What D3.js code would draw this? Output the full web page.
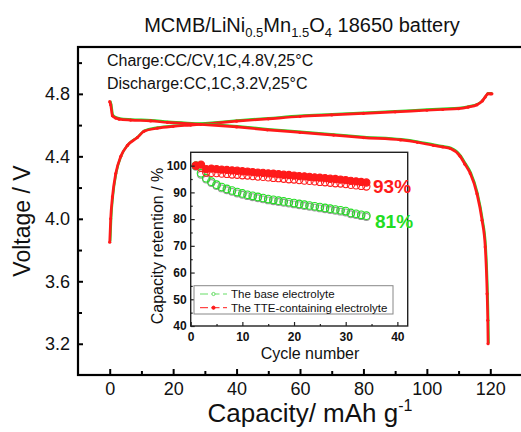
<!DOCTYPE html>
<html>
<head>
<meta charset="utf-8">
<script src="https://cdn.jsdelivr.net/npm/d3@7"></script>
<style>
  body { margin: 0; background: #fff; }
  svg { display: block; font-family: "Liberation Sans", Arial, sans-serif; }
  .narrow { font-family: "Liberation Sans Narrow", "Arial Narrow", "Liberation Sans", Arial, sans-serif; font-weight: bold; }
</style>
</head>
<body>
<svg id="chart" width="521" height="432"></svg>
<script>
// main panel: charge / discharge profile (capacity mAh/g vs voltage V)
var chargeCap = [0, 0.3, 0.85, 1.9, 3.5, 5.6, 8.7, 10.8, 15, 20, 25.5, 30, 40, 50, 60, 70, 80, 90, 100, 105, 110, 113, 115.8, 117.5, 118.4, 119.2, 120, 120.5];
var chargeV = [3.85, 4.0, 4.14, 4.29, 4.40, 4.47, 4.52, 4.56, 4.58, 4.592, 4.60, 4.607, 4.625, 4.64, 4.655, 4.665, 4.675, 4.685, 4.695, 4.70, 4.705, 4.715, 4.73, 4.755, 4.78, 4.80, 4.80, 4.80];
var dischargeCap = [0, 0.3, 0.85, 1.9, 3, 6.6, 12.9, 18.2, 28.7, 40, 49.7, 60, 70.6, 80, 91.7, 97, 102.1, 105, 107.4, 110.5, 112, 113.7, 115.8, 117.4, 118.4, 119.0, 119.2, 119.3];
var dischargeV = [4.75, 4.73, 4.66, 4.645, 4.638, 4.632, 4.627, 4.617, 4.605, 4.588, 4.57, 4.553, 4.536, 4.52, 4.505, 4.49, 4.47, 4.46, 4.45, 4.40, 4.35, 4.29, 4.16, 3.99, 3.82, 3.52, 3.35, 3.20];
var xTicksMain = [0, 20, 40, 60, 80, 100, 120];
var xMinorMain = [10, 30, 50, 70, 90, 110];
var yTicksMain = [3.2, 3.6, 4.0, 4.4, 4.8];
var yMinorMain = [3.4, 3.8, 4.2, 4.6, 5.0];

// inset: capacity retention vs cycle number
var cycles = d3.range(1, 35);
var baseRet = [100, 97.2, 95.3, 94.0, 92.9, 92.0, 91.3, 90.7, 90.1, 89.6, 89.1, 88.7, 88.3, 87.9, 87.5, 87.2, 86.9, 86.6, 86.3, 86.0, 85.7, 85.4, 85.1, 84.8, 84.5, 84.2, 83.9, 83.6, 83.3, 83.0, 82.3, 82.0, 81.6, 81.3];
var baseRet2 = [99.6, 96.6, 94.8, 93.5, 92.4, 91.5, 90.8, 90.2, 89.6, 89.1, 88.6, 88.2, 87.8, 87.4, 87.0, 86.7, 86.4, 86.1, 85.8, 85.5, 85.2, 84.9, 84.6, 84.3, 84.0, 83.7, 83.4, 83.1, 82.8, 82.5, 81.8, 81.5, 81.1, 80.8];
var tteRet = [100, 100.4, 98.7, 98.9, 98.7, 98.5, 98.4, 98.2, 98.1, 97.9, 97.8, 97.6, 97.4, 97.3, 97.1, 97.0, 96.8, 96.6, 96.5, 96.3, 96.1, 96.0, 95.8, 95.6, 95.5, 95.3, 95.1, 95.0, 94.8, 94.6, 94.3, 94.1, 93.9, 93.7];
var tteRet2 = [100, 99.2, 97.4, 97.3, 97.2, 97.0, 96.9, 96.7, 96.6, 96.4, 96.3, 96.1, 95.9, 95.8, 95.6, 95.4, 95.3, 95.1, 94.9, 94.8, 94.6, 94.4, 94.3, 94.1, 93.9, 93.8, 93.6, 93.4, 93.3, 93.1, 92.8, 92.6, 92.4, 92.2];
var xTicksIn = [0, 10, 20, 30, 40];
var xMinorIn = [5, 15, 25, 35];
var yTicksIn = [40, 50, 60, 70, 80, 90, 100];
var yMinorIn = [45, 55, 65, 75, 85, 95];
var legendNames = ["The base electrolyte", "The TTE-containing electrolyte"];

var RED = "#ff1a1a", GREEN = "#22dd22";

var svg = d3.select("#chart");
svg.append("rect").attr("width", 521).attr("height", 432).attr("fill", "#fff");

var x = d3.scaleLinear().domain([-10, 130]).range([78, 522]);
var y = d3.scaleLinear().domain([3.0, 5.1]).range([375, 47]);

function zip(a, b) { return a.map(function (v, i) { return [v, b[i]]; }); }

// curves: green underneath, red on top
var line = d3.line().x(function (d) { return x(d[0]); }).y(function (d) { return y(d[1]); }).curve(d3.curveMonotoneX);
[zip(chargeCap, chargeV), zip(dischargeCap, dischargeV)].forEach(function (data) {
    svg.append("path").attr("d", line(data)).attr("fill", "none")
        .attr("stroke", GREEN).attr("stroke-width", 2.4).attr("transform", "translate(0.5,-0.7)");
    svg.append("path").attr("d", line(data)).attr("fill", "none")
        .attr("stroke", RED).attr("stroke-width", 2.7);
    svg.append("g").selectAll("circle").data(data).enter().append("circle")
        .attr("cx", function (d) { return x(d[0]); })
        .attr("cy", function (d) { return y(d[1]); })
        .attr("r", 1.6).attr("fill", RED).attr("stroke", "none");
});

// main frame + axes
svg.append("rect").attr("x", 78).attr("y", 47).attr("width", 446).attr("height", 328)
    .attr("fill", "none").attr("stroke", "#000").attr("stroke-width", 2.2);

function styleAxis(g, size) {
    g.select(".domain").remove();
    g.selectAll("line").attr("stroke", "#000").attr("stroke-width", 2);
    g.selectAll("text").attr("font-size", size).attr("fill", "#111");
}
svg.append("g").attr("transform", "translate(0,375)")
    .call(d3.axisBottom(x).tickValues(xTicksMain).tickSizeInner(-6).tickSizeOuter(0).tickPadding(7))
    .call(styleAxis, 18).attr("font-family", null);
svg.append("g").attr("transform", "translate(0,375)")
    .call(d3.axisBottom(x).tickValues(xMinorMain).tickSizeInner(-4).tickSizeOuter(0).tickFormat(""))
    .call(styleAxis, 18);
svg.append("g").attr("transform", "translate(78,0)")
    .call(d3.axisLeft(y).tickValues(yTicksMain).tickSizeInner(-5).tickSizeOuter(0).tickPadding(8).tickFormat(d3.format(".1f")))
    .call(styleAxis, 18).attr("font-family", null);
svg.append("g").attr("transform", "translate(78,0)")
    .call(d3.axisLeft(y).tickValues(yMinorMain).tickSizeInner(-4).tickSizeOuter(0).tickFormat(""))
    .call(styleAxis, 18);

// main labels
var title = svg.append("text").attr("x", 302).attr("y", 32).attr("text-anchor", "middle").attr("font-size", 20).attr("fill", "#111");
title.append("tspan").text("MCMB/LiNi");
title.append("tspan").text("0.5").attr("font-size", 13).attr("dy", 5);
title.append("tspan").text("Mn").attr("dy", -5);
title.append("tspan").text("1.5").attr("font-size", 13).attr("dy", 5);
title.append("tspan").text("O").attr("dy", -5);
title.append("tspan").text("4").attr("font-size", 13).attr("dy", 5);
title.append("tspan").text(" 18650 battery").attr("dy", -5);

svg.append("text").attr("x", 107).attr("y", 66).attr("font-size", 16).attr("fill", "#111").text("Charge:CC/CV,1C,4.8V,25°C");
svg.append("text").attr("x", 107).attr("y", 89).attr("font-size", 16).attr("fill", "#111").text("Discharge:CC,1C,3.2V,25°C");

svg.append("text").attr("transform", "translate(30,221) rotate(-90)").attr("text-anchor", "middle")
    .attr("font-size", 23).attr("fill", "#111").text("Voltage / V");
var xl = svg.append("text").attr("x", 310).attr("y", 422).attr("text-anchor", "middle").attr("font-size", 26).attr("fill", "#111");
xl.append("tspan").text("Capacity/ mAh g");
xl.append("tspan").text("-1").attr("font-size", 16).attr("dy", -11);

// ---- inset ----
var xi = d3.scaleLinear().domain([0, 42]).range([190.7, 407.7]);
var yi = d3.scaleLinear().domain([40, 105]).range([326, 152.3]);
var inset = svg.append("g");
inset.append("rect").attr("x", 190.7).attr("y", 152.3).attr("width", 217).attr("height", 173.7).attr("fill", "#fff");

function markers(vals, color, fill, r) {
    inset.append("g").selectAll("circle").data(vals).enter().append("circle")
        .attr("cx", function (d, i) { return xi(cycles[i]); })
        .attr("cy", function (d) { return yi(d); })
        .attr("r", r).attr("fill", fill).attr("stroke", color).attr("stroke-width", 1.1);
}
markers(baseRet2, "#999", "none", 3.4);
markers(baseRet, GREEN, "none", 3.8);
markers(tteRet2, RED, "none", 3.6);
markers(tteRet, RED, RED, 3.6);

function styleInset(g) {
    g.select(".domain").remove();
    g.selectAll("line").attr("stroke", "#222").attr("stroke-width", 1.2);
    g.selectAll("text").attr("class", "narrow").attr("font-size", 12).attr("fill", "#111");
}
inset.append("g").attr("transform", "translate(0,326)")
    .call(d3.axisBottom(xi).tickValues(xTicksIn).tickSizeInner(-4).tickSizeOuter(0).tickPadding(6))
    .call(styleInset).attr("font-family", null);
inset.append("g").attr("transform", "translate(0,326)")
    .call(d3.axisBottom(xi).tickValues(xMinorIn).tickSizeInner(-2).tickSizeOuter(0).tickFormat(""))
    .call(styleInset);
inset.append("g").attr("transform", "translate(190.7,0)")
    .call(d3.axisLeft(yi).tickValues(yTicksIn).tickSizeInner(-4).tickSizeOuter(0).tickPadding(4))
    .call(styleInset).attr("font-family", null);
inset.append("g").attr("transform", "translate(190.7,0)")
    .call(d3.axisLeft(yi).tickValues(yMinorIn).tickSizeInner(-2).tickSizeOuter(0).tickFormat(""))
    .call(styleInset);
inset.append("rect").attr("x", 190.7).attr("y", 152.3).attr("width", 217).attr("height", 173.7)
    .attr("fill", "none").attr("stroke", "#222").attr("stroke-width", 1.4);

inset.append("text").attr("transform", "translate(163,246) rotate(-90)").attr("text-anchor", "middle")
    .attr("font-size", 16).attr("fill", "#111").text("Capacity retention / %");
inset.append("text").attr("x", 310).attr("y", 359).attr("text-anchor", "middle")
    .attr("font-size", 16).attr("fill", "#111").text("Cycle number");

inset.append("text").attr("class", "narrow").attr("x", 373).attr("y", 193).attr("font-size", 19).attr("fill", RED).text("93%");
inset.append("text").attr("class", "narrow").attr("x", 375).attr("y", 228).attr("font-size", 19).attr("fill", GREEN).text("81%");

// legend
var leg = inset.append("g");
leg.append("rect").attr("x", 194).attr("y", 285.7).attr("width", 199).attr("height", 28.3)
    .attr("fill", "#fff").attr("stroke", "#888").attr("stroke-width", 1);
var legColors = ["#66dd66", RED];
legendNames.forEach(function (name, i) {
    var ly = 294 + i * 13.7;
    leg.append("line").attr("x1", 200).attr("x2", 227).attr("y1", ly).attr("y2", ly)
        .attr("stroke", legColors[i]).attr("stroke-width", 1).attr("stroke-dasharray", "8,3.5");
    leg.append("circle").attr("cx", 213.5).attr("cy", ly).attr("r", 1.6)
        .attr("fill", i ? RED : "#fff").attr("stroke", legColors[i]).attr("stroke-width", 1);
    leg.append("text").attr("x", 231).attr("y", ly).attr("dy", "0.35em")
        .attr("font-size", 11.5).attr("fill", "#111").text(name);
});
</script>
</body>
</html>
